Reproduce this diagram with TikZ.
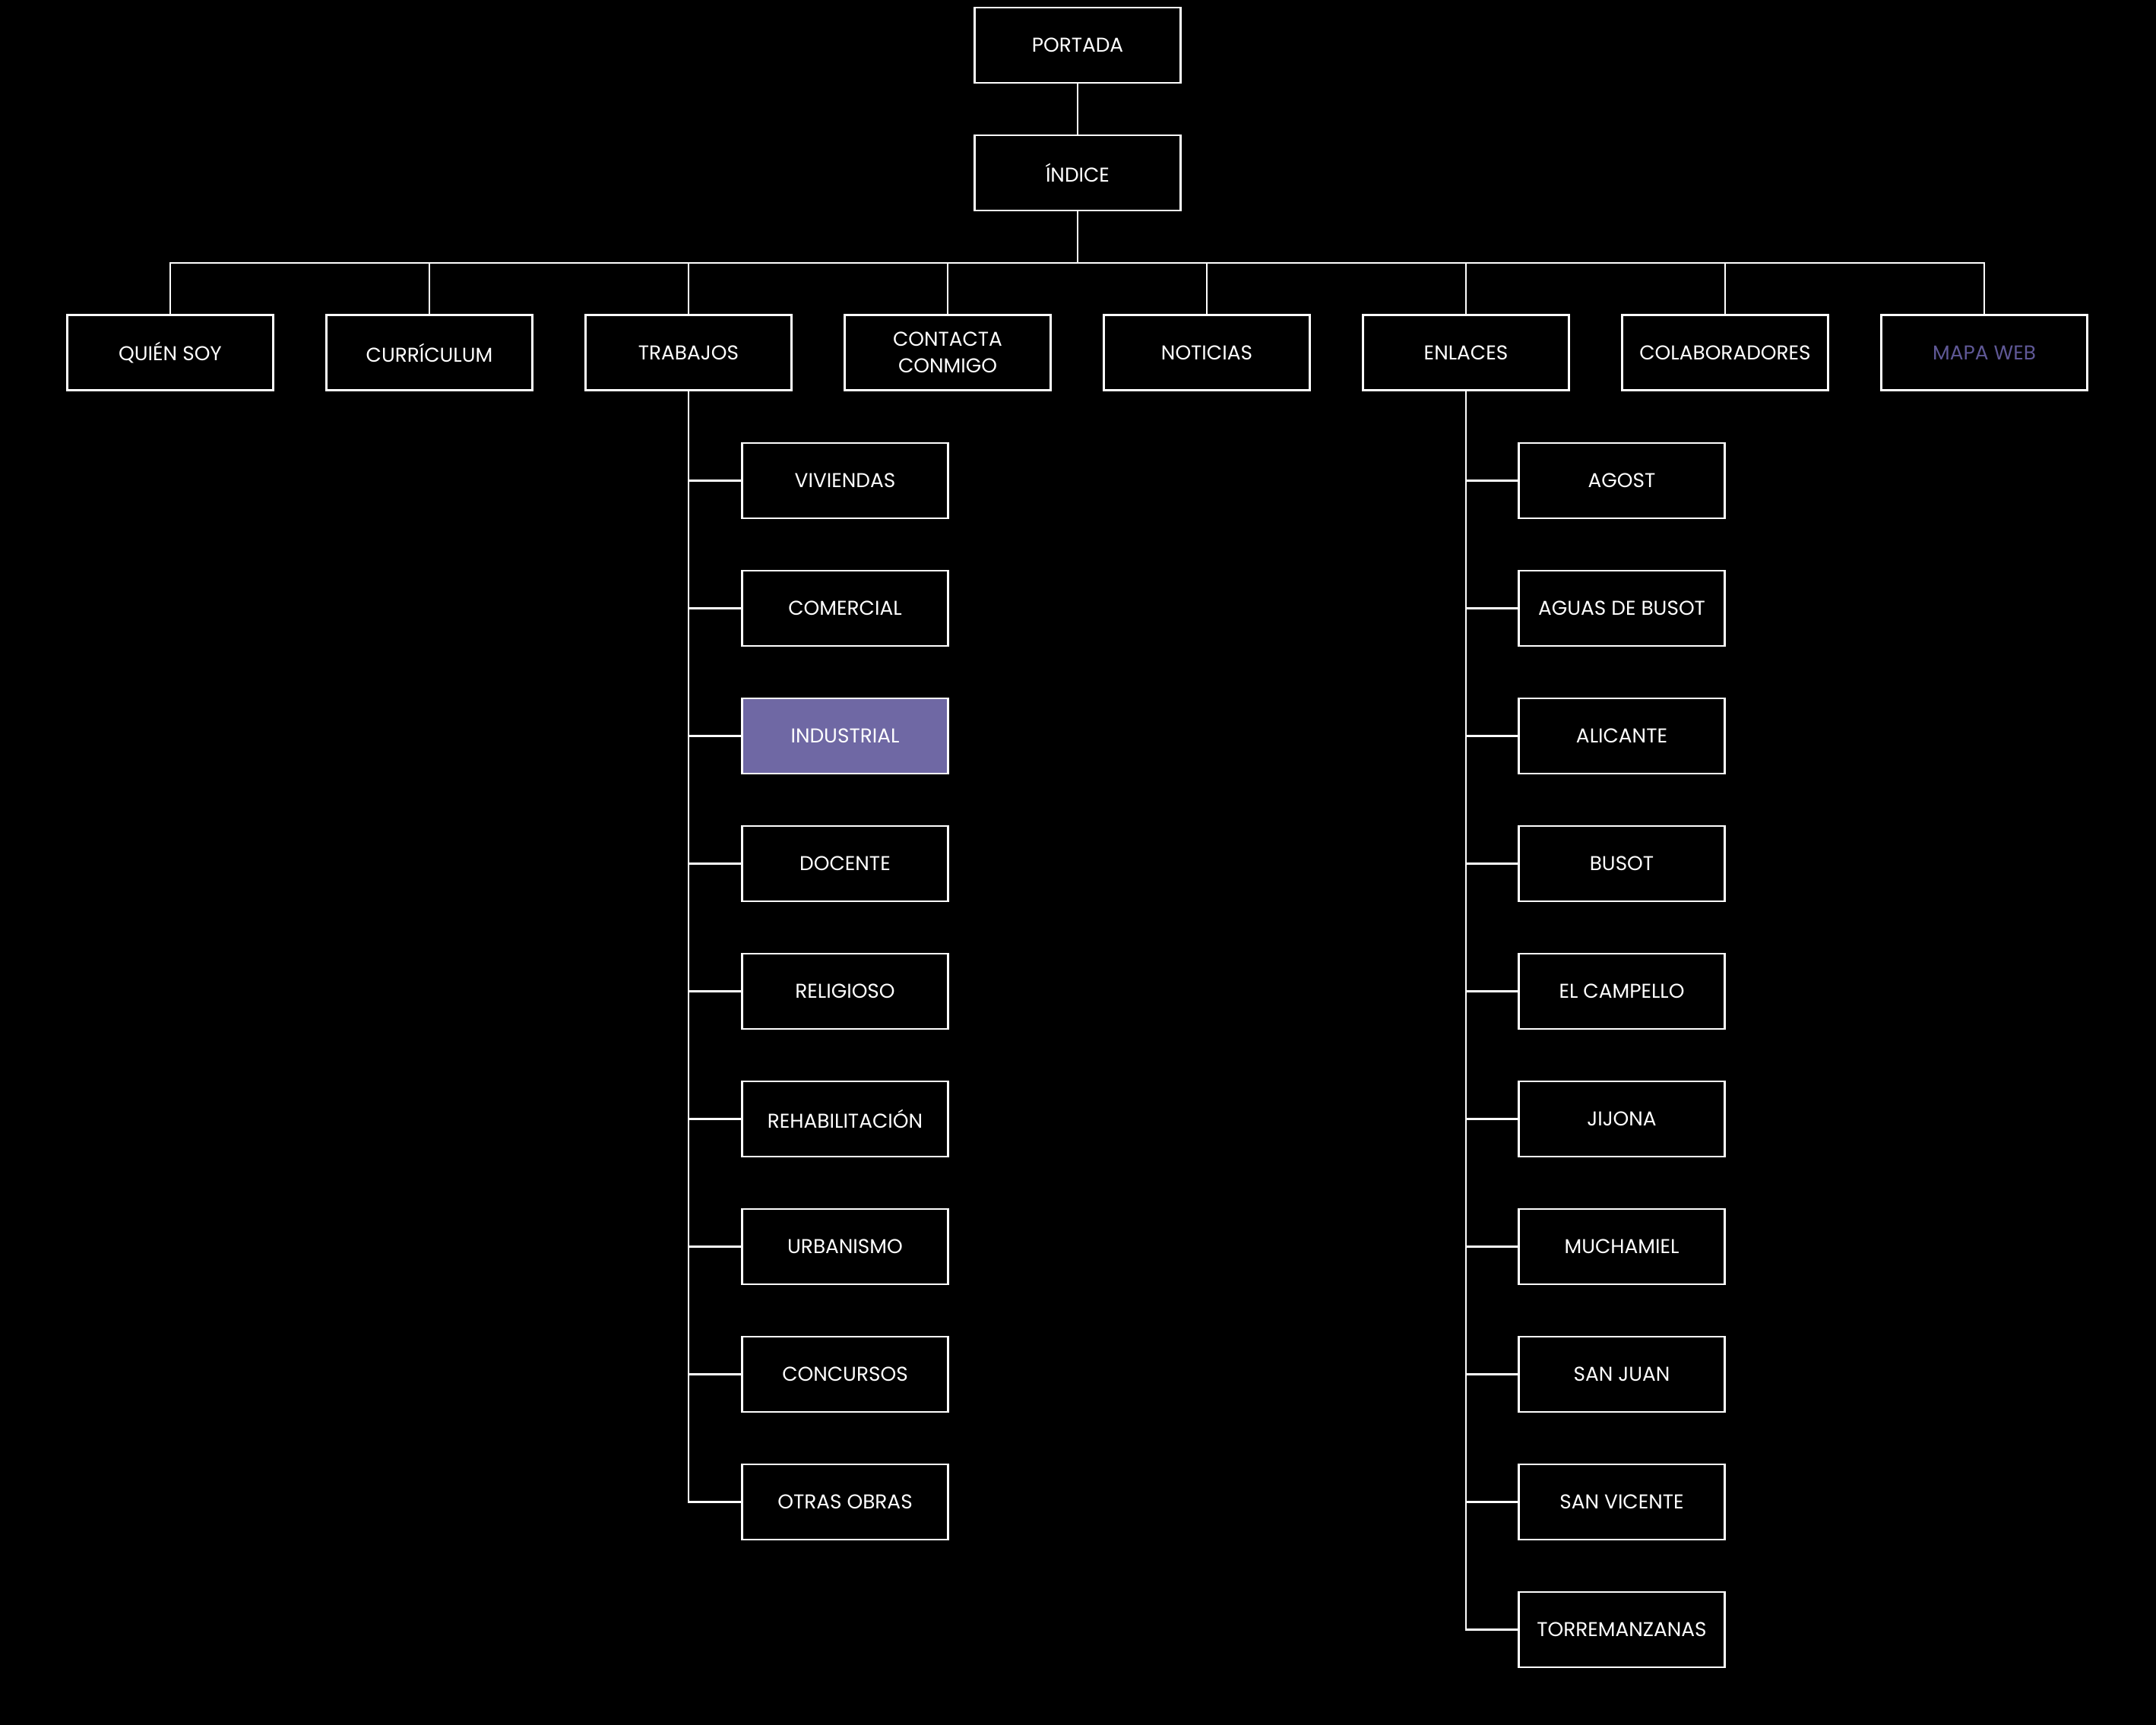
\documentclass[tikz,border=0pt]{standalone}
\usepackage{fontspec}
\setmainfont{Poppins}
\definecolor{lila}{HTML}{6F68A4}
\definecolor{lilatxt}{HTML}{5F5896}
\begin{document}
\begin{tikzpicture}[
  caja/.style={draw=white,line width=0.8pt,minimum width=2.71cm,minimum height=0.99cm,
    inner sep=0pt,text=white,align=center,font=\fontsize{7.5}{10}\selectfont},
  linea/.style={draw=white,line width=0.8pt}]
\fill[black] (0,0) rectangle (28.37,-22.70);
\useasboundingbox (0,0) rectangle (28.37,-22.70);
% cabecera
\node[caja] (portada) at (14.18,-0.595) {PORTADA};
\node[caja] (indice) at (14.18,-2.275) {ÍNDICE};
\coordinate (bus) at (14.18,-3.46);
\draw[linea] (portada) -- (indice);
\draw[linea] (indice) -- (bus);
% secciones
\foreach \nombre/\texto/\tinta [count=\i from 0] in {quien/QUIÉN SOY/white,
    curriculum/CURRÍCULUM/white, trabajos/TRABAJOS/white,
    contacta/{CONTACTA\\CONMIGO}/white, noticias/NOTICIAS/white,
    enlaces/ENLACES/white, colaboradores/COLABORADORES/white, mapa/MAPA WEB/lilatxt}
{
  \node[caja,text=\tinta] (\nombre) at (2.24+3.41*\i,-4.64) {\texto};
  \draw[linea] (\nombre.north) |- (bus);
}
% trabajos
\foreach \nombre/\texto/\relleno [count=\i from 0] in {viviendas/VIVIENDAS/black,
    comercial/COMERCIAL/black, industrial/INDUSTRIAL/lila, docente/DOCENTE/black,
    religioso/RELIGIOSO/black, rehabilitacion/REHABILITACIÓN/black,
    urbanismo/URBANISMO/black, concursos/CONCURSOS/black, otras/OTRAS OBRAS/black}
{
  \node[caja,fill=\relleno] (\nombre) at (11.12,-6.325-1.68*\i) {\texto};
  \draw[linea] (trabajos.south) |- (\nombre.west);
}
% enlaces
\foreach \nombre/\texto [count=\i from 0] in {agost/AGOST, aguas/AGUAS DE BUSOT,
    alicante/ALICANTE, busot/BUSOT, campello/EL CAMPELLO, jijona/JIJONA,
    muchamiel/MUCHAMIEL, sanjuan/SAN JUAN, sanvicente/SAN VICENTE,
    torremanzanas/TORREMANZANAS}
{
  \node[caja] (\nombre) at (21.34,-6.325-1.68*\i) {\texto};
  \draw[linea] (enlaces.south) |- (\nombre.west);
}
\end{tikzpicture}
\end{document}
